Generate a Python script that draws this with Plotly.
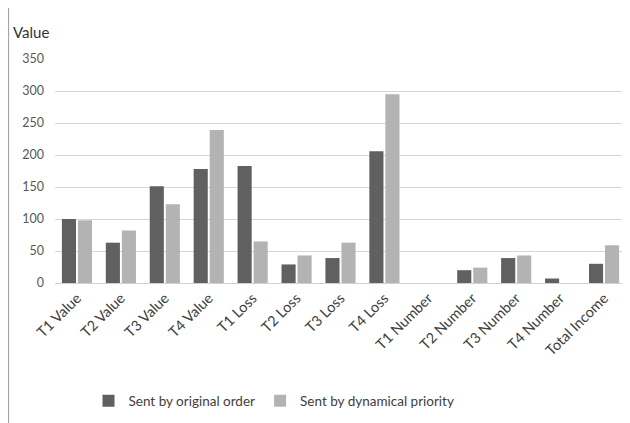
import plotly.graph_objects as go

categories = ["T1 Value", "T2 Value", "T3 Value", "T4 Value", "T1 Loss", "T2 Loss",
              "T3 Loss", "T4 Loss", "T1 Number", "T2 Number", "T3 Number", "T4 Number",
              "Total Income"]
original_order = [100, 63, 151, 178, 183, 29, 39, 206, 0, 20, 39, 7, 30]
dynamical_priority = [98, 82, 123, 239, 65, 43, 63, 295, 0, 24, 43, 0, 59]
y_ticks = [0, 50, 100, 150, 200, 250, 300, 350]

FONT = "Lato, 'Liberation Sans', sans-serif"
TXT = "#595959"

fig = go.Figure()
fig.add_trace(go.Bar(name="Sent by original order", x=categories, y=original_order,
                     marker=dict(color="#606060", line=dict(width=0))))
fig.add_trace(go.Bar(name="Sent by dynamical priority", x=categories, y=dynamical_priority,
                     marker=dict(color="#b3b3b3", line=dict(width=0))))

# page body has an 8px margin, so figure coordinates = screen - 8
OFF = 8
W, H = 630 - OFF, 423 - OFF
L, T = 55 - OFF, 59 - OFF
R = W - (626 - OFF)
B = H - (283 - OFF)
pw, ph = W - L - R, H - T - B

def px_x(sx):
    return (sx - OFF - L) / pw

def px_y(sy):
    return (H - B - (sy - OFF)) / ph

fig.update_layout(
    width=W, height=H,
    margin=dict(l=L, r=R, t=T, b=B, pad=0),
    paper_bgcolor="white", plot_bgcolor="white",
    barmode="group", bargap=0.27, bargroupgap=0.12,
    font=dict(family=FONT, size=12, color=TXT),
    showlegend=True,
    legend=dict(orientation="h", x=px_x(274), xanchor="center", y=px_y(401), yanchor="middle",
                font=dict(size=13.5, color="#404040"), itemwidth=30, traceorder="normal"),
    xaxis=dict(tickangle=-45, tickfont=dict(size=14.5, color="#404040"), showgrid=False,
               showline=True, linecolor="#d0d0d0", ticks="", fixedrange=True),
    yaxis=dict(range=[0, 350], tickvals=y_ticks, showgrid=True, gridcolor="#d6d6d6",
               gridwidth=1.3, zeroline=False, tickfont=dict(size=12.5, color=TXT),
               ticklabelstandoff=10, fixedrange=True),
    annotations=[dict(text="Value", xref="paper", yref="paper", x=px_x(11), y=px_y(32),
                      xanchor="left", yanchor="middle", showarrow=False,
                      font=dict(size=15, color="#333333"))],
    shapes=[
        dict(type="line", xref="paper", yref="paper", x0=px_x(8.5), x1=px_x(8.5),
             y0=px_y(7.5), y1=px_y(423), line=dict(color="#a6a6a6", width=1.2)),
        dict(type="line", xref="paper", yref="paper", x0=px_x(8.5), x1=px_x(630),
             y0=px_y(7.5), y1=px_y(7.5), line=dict(color="#a6a6a6", width=1.2)),
    ],
)

fig.write_html("out.html")
